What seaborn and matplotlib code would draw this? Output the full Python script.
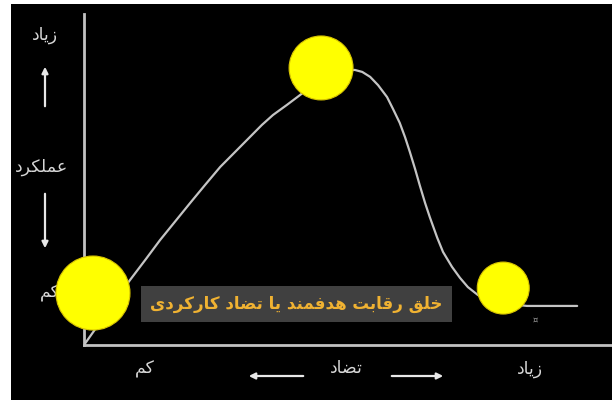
import pandas as pd
import matplotlib
matplotlib.use("Agg")
import matplotlib.pyplot as plt
import seaborn as sns

# Curve: conflict level (x) vs performance (y)
conflict = [0.0, 0.87, 1.16, 1.44, 1.72, 2.01, 2.29, 2.58, 2.86, 3.14, 3.37,
            3.58, 3.84, 4.09, 4.47, 4.85, 5.13, 5.27, 5.42, 5.57, 5.74, 5.85,
            5.98, 6.08, 6.17, 6.27, 6.36, 6.46, 6.55, 6.69, 6.80, 6.97, 7.12,
            7.27, 7.46, 7.88, 8.39, 9.34]
performance = [0.0, 1.96, 2.57, 3.17, 3.72, 4.29, 4.83, 5.38, 5.83, 6.28, 6.65,
               6.95, 7.25, 7.55, 8.01, 8.31, 8.31, 8.25, 8.10, 7.85, 7.49, 7.14,
               6.71, 6.28, 5.84, 5.32, 4.82, 4.29, 3.86, 3.24, 2.81, 2.36, 2.03,
               1.75, 1.51, 1.27, 1.18, 1.18]

# Yellow circles (low / optimal / high conflict)
circle_x = [0.17, 4.49, 7.94]
circle_y = [1.57, 8.37, 1.72]
circle_size = [2840, 2120, 1400]

# Texts
label_box = "خلق رقابت هدفمند یا تضاد کارکردی"
y_high, y_name, y_low = "زیاد", "عملکرد", "کم"
x_low, x_name, x_high = "کم", "تضاد", "زیاد"

# simple arabic/persian shaping (matplotlib does no joining or RTL)
FORMS = {
    'ا': ('\uFE8D', '\uFE8E', None, None),
    'ب': ('\uFE8F', '\uFE90', '\uFE91', '\uFE92'),
    'ت': ('\uFE95', '\uFE96', '\uFE97', '\uFE98'),
    'خ': ('\uFEA5', '\uFEA6', '\uFEA7', '\uFEA8'),
    'د': ('\uFEA9', '\uFEAA', None, None),
    'ر': ('\uFEAD', '\uFEAE', None, None),
    'ز': ('\uFEAF', '\uFEB0', None, None),
    'ض': ('\uFEBD', '\uFEBE', '\uFEBF', '\uFEC0'),
    'ع': ('\uFEC9', '\uFECA', '\uFECB', '\uFECC'),
    'ف': ('\uFED1', '\uFED2', '\uFED3', '\uFED4'),
    'ق': ('\uFED5', '\uFED6', '\uFED7', '\uFED8'),
    'ل': ('\uFEDD', '\uFEDE', '\uFEDF', '\uFEE0'),
    'م': ('\uFEE1', '\uFEE2', '\uFEE3', '\uFEE4'),
    'ن': ('\uFEE5', '\uFEE6', '\uFEE7', '\uFEE8'),
    'ه': ('\uFEE9', '\uFEEA', '\uFEEB', '\uFEEC'),
    'ک': ('\uFB8E', '\uFB8F', '\uFB90', '\uFB91'),
    'ی': ('\uFBFC', '\uFBFD', '\uFBFE', '\uFBFF'),
}


def fa(text):
    out = []
    for i, c in enumerate(text):
        if c not in FORMS:
            out.append(c)
            continue
        prev = text[i - 1] if i > 0 else None
        nxt = text[i + 1] if i + 1 < len(text) else None
        jp = prev in FORMS and FORMS[prev][2] is not None
        jn = FORMS[c][2] is not None and nxt in FORMS
        iso, fin, ini, med = FORMS[c]
        if jp and jn:
            out.append(med)
        elif jp:
            out.append(fin)
        elif jn:
            out.append(ini)
        else:
            out.append(iso)
    return "".join(reversed(out))


sns.set_style("dark")
plt.rcParams['font.family'] = ['DejaVu Sans']

fig = plt.figure(figsize=(6.12, 4.0), dpi=100, facecolor="white")
bg = fig.add_axes([11 / 612, 0, 601 / 612, 396 / 400])
bg.set_facecolor("black")
bg.set_xticks([])
bg.set_yticks([])
for s in bg.spines.values():
    s.set_visible(False)

ax = fig.add_axes([84 / 612, 55 / 400, 528 / 612, 331 / 400])
ax.patch.set_alpha(0)
ax.set_xlim(0, 10)
ax.set_ylim(0, 10)
ax.set_xticks([])
ax.set_yticks([])
ax.grid(False)
for side in ["top", "right"]:
    ax.spines[side].set_visible(False)
for side in ["left", "bottom"]:
    ax.spines[side].set_color("#c2c2c2")
    ax.spines[side].set_linewidth(2)

curve = pd.DataFrame({"conflict": conflict, "performance": performance})
sns.lineplot(data=curve, x="conflict", y="performance", sort=False,
             estimator=None, color="#c4c4c4", lw=1.6, ax=ax, zorder=3)
ax.lines[-1].set_solid_joinstyle("round")

circles = pd.DataFrame({"x": circle_x, "y": circle_y, "s": circle_size})
sns.scatterplot(data=circles, x="x", y="y", size="s", sizes=(min(circle_size), max(circle_size)),
                color="#ffff00", edgecolor="#d8c400", linewidth=0.8, legend=False,
                ax=ax, zorder=5)
ax.collections[-1].set_clip_on(False)
ax.set_xlabel("")
ax.set_ylabel("")

# label box
ax.text(4.02, 1.24, fa(label_box), ha="center", va="center", fontsize=12,
        fontweight="bold", color="#f0b232", zorder=4,
        bbox=dict(boxstyle="square,pad=0.55", facecolor="#404040", edgecolor="none"))

txt = dict(color="#d6d6d6", fontsize=12.5, ha="center", va="center",
           xycoords="figure pixels")
arr = dict(arrowstyle="-|>", color="#e8e8e8", lw=1.6, mutation_scale=9)

# y axis labels
ax.annotate(fa(y_high), xy=(45, 365), **txt)
ax.annotate("", xy=(45, 336), xytext=(45, 291), xycoords="figure pixels", arrowprops=arr)
ax.annotate(fa(y_name), xy=(42, 233), **txt)
ax.annotate("", xy=(45, 149), xytext=(45, 209), xycoords="figure pixels", arrowprops=arr)
ax.annotate(fa(y_low), xy=(50, 107), zorder=2, **txt)

# x axis labels
ax.annotate(fa(x_low), xy=(145, 31), **txt)
ax.annotate("", xy=(246, 24), xytext=(306, 24), xycoords="figure pixels", arrowprops=arr)
ax.annotate(fa(x_name), xy=(346, 32), **txt)
ax.annotate("", xy=(446, 24), xytext=(389, 24), xycoords="figure pixels", arrowprops=arr)
ax.annotate(fa(x_high), xy=(530, 31), **txt)
ax.annotate("¤", xy=(535, 80), xycoords="figure pixels", color="#9a9a9a",
            fontsize=6, ha="center", va="center")

fig.savefig("out.png", dpi=100, facecolor="white")
